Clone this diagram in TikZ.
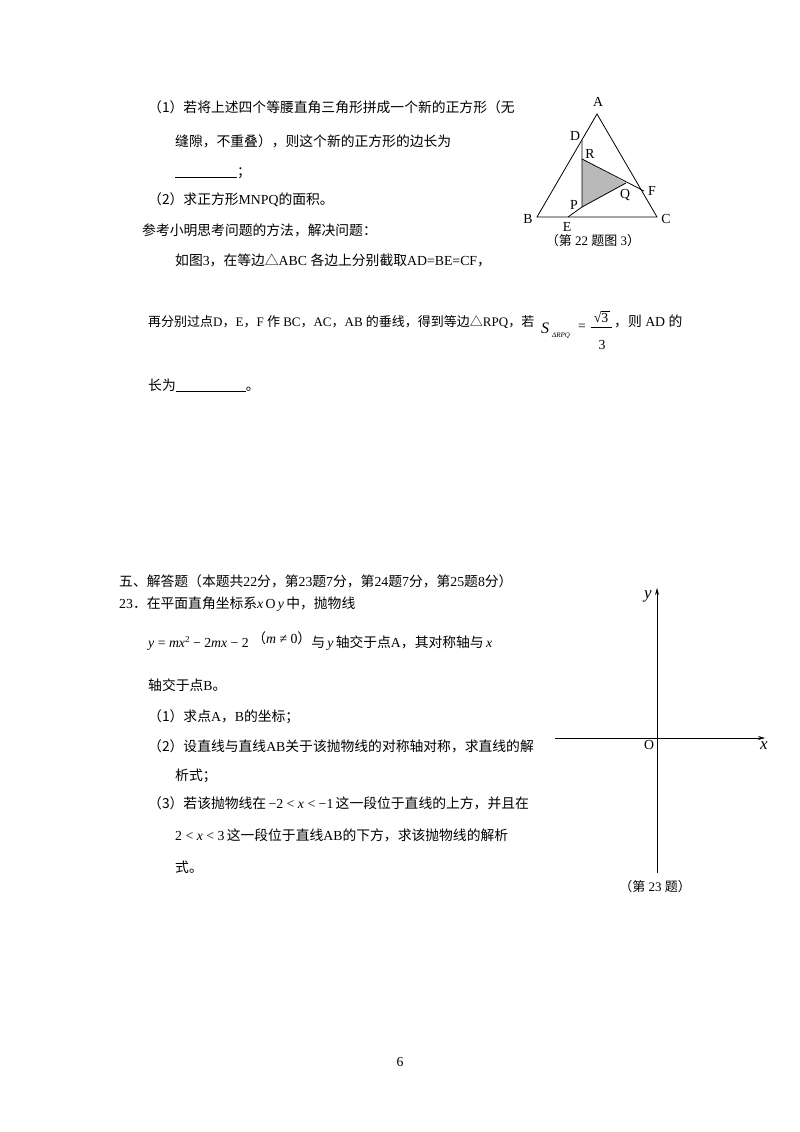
\documentclass[tikz,border=0pt]{standalone}
\usepackage{fontspec}
\setmainfont{Liberation Serif}
\newfontfamily\cjk{Noto Sans CJK SC}
\newcommand{\zh}[1]{{\cjk #1}}
\newcommand{\mi}[1]{\textit{#1}}
\usetikzlibrary{arrows.meta}
\begin{document}
\begin{tikzpicture}[x=1pt,y=-1pt,
  txt/.style={anchor=base west,inner sep=0pt,font=\fontsize{13.8}{16}\selectfont},
  lbl/.style={inner sep=0pt,font=\fontsize{13.8}{16}\selectfont},
  captxt/.style={inner sep=0pt,font=\fontsize{13}{15}\selectfont}]
\useasboundingbox[fill=white] (0,0) rectangle (800,1132);
% text part 22
\node[txt] (t1) at (148,112) {\zh{（1）若将上述四个等腰直角三角形拼成一个新的正方形（无}};
\node[txt] (t2) at (175,146) {\zh{缝隙，不重叠），则这个新的正方形的边长为}};
\node[txt] (t3) at (175,176) {\underline{\hspace{62pt}}\zh{；}};
\node[txt] (t4) at (148,204) {\zh{（2）求正方形}MNPQ\zh{的面积。}};
\node[txt] (t5) at (142,235) {\zh{参考小明思考问题的方法，解决问题：}};
\node[txt] (t6) at (175,265) {\zh{如图}3\zh{，在等边}\zh{△}ABC \zh{各边上分别截取}AD=BE=CF\zh{，}};
\node[txt,font=\fontsize{13}{15}\selectfont] (t7) at (148,326) {\zh{再分别过点}D\zh{，}E\zh{，}F \zh{作} BC\zh{，}AC\zh{，}AB \zh{的垂线，得到等边}\zh{△}RPQ\zh{，若}};
\node[txt,font=\fontsize{16}{18}\selectfont] (t7s) at (541,333) {\mi{S}};
\node[txt,font=\fontsize{7}{8}\selectfont] (t7sub) at (552,337) {\mi{ΔRPQ}};
\node[txt] (t7eq) at (578,330) {=};
\node[lbl] (t7n) at (601,317) {√\rlap{\rule[10.5pt]{9pt}{0.5pt}}3};
\node[lbl] (t7d) at (602,345) {3};
\draw[line width=0.5pt] (591,327) -- (612,327);
\node[txt] (t7b) at (614,326) {\zh{，则} AD \zh{的}};
\node[txt] (t8) at (148,390) {\zh{长为}\underline{\hspace{70pt}}\zh{。}};
% triangle figure
\coordinate (A) at (597,114);
\coordinate (B) at (537,217);
\coordinate (C) at (657,217);
\coordinate (D) at (582,140);
\coordinate (E) at (568,217);
\coordinate (F) at (644,191);
\coordinate (R) at (582,159);
\coordinate (Q) at (626,183);
\coordinate (P) at (582,207);
\fill[gray!55] (R) -- (Q) -- (P) -- cycle;
\draw[line width=0.8pt] (A) -- (B) -- (C) -- cycle;
\draw[line width=0.8pt] (D) -- (P) -- (E);
\draw[line width=0.8pt] (R) -- (F);
\draw[line width=0.8pt] (P) -- (Q);
\node[lbl] (lA) at (598,102) {A};
\node[lbl] (lB) at (528,219) {B};
\node[lbl] (lC) at (666,219) {C};
\node[lbl] (lD) at (575,136) {D};
\node[lbl] (lE) at (567,227) {E};
\node[lbl] (lF) at (652,191) {F};
\node[lbl] (lR) at (590,154) {R};
\node[lbl] (lQ) at (625,195) {Q};
\node[lbl] (lP) at (574,205) {P};
\node[captxt] (c22) at (593,241) {\zh{（第} 22 \zh{题图} 3\zh{）}};
% part 5
\node[txt] (s1) at (119,586) {\zh{五、解答题（本题共}22\zh{分，第}23\zh{题}7\zh{分，第}24\zh{题}7\zh{分，第}25\zh{题}8\zh{分）}};
\node[txt] (s2) at (119,608) {23\zh{．在平面直角坐标系}\mi{x}\,O\,\mi{y}\,\zh{中，抛物线}};
\node[txt] (s3) at (148,647) {\mi{y} = \mi{mx}\raisebox{5pt}{\fontsize{9}{10}\selectfont 2} − 2\mi{mx} − 2 \raisebox{4pt}{\zh{（}\mi{m} ≠ 0\zh{）}}\zh{与}\,\mi{y}\,\zh{轴交于点}A\zh{，其对称轴与}\,\mi{x}};
\node[txt] (s4) at (148,690) {\zh{轴交于点}B\zh{。}};
\node[txt] (s5) at (148,721) {\zh{（1）求点}A\zh{，}B\zh{的坐标；}};
\node[txt] (s6) at (148,751) {\zh{（2）设直线与直线}AB\zh{关于该抛物线的对称轴对称，求直线的解}};
\node[txt] (s7) at (175,780) {\zh{析式；}};
\node[txt] (s8) at (148,808) {\zh{（3）若该抛物线在}\,−2 < \mi{x} < −1\,\zh{这一段位于直线的上方，并且在}};
\node[txt] (s9) at (175,840) {2 < \mi{x} < 3\,\zh{这一段位于直线}AB\zh{的下方，求该抛物线的解析}};
\node[txt] (s10) at (175,872) {\zh{式。}};
% axes
\coordinate (xs) at (555,738);
\coordinate (xe) at (765,738);
\coordinate (ys) at (657,873);
\coordinate (ye) at (657,588);
\draw[line width=0.7pt,-{Stealth[length=7pt,width=4pt]}] (xs) -- (xe);
\draw[line width=0.7pt,-{Stealth[length=7pt,width=4pt]}] (ys) -- (ye);
\node[lbl,font=\fontsize{17}{18}\selectfont] (ly) at (648,596) {\mi{y}};
\node[lbl,font=\fontsize{17}{18}\selectfont] (lx) at (764,746) {\mi{x}};
\node[lbl] (lO) at (649,745) {O};
\node[captxt] (c23) at (655,887) {\zh{（第} 23 \zh{题）}};
\node[lbl] (pg) at (400,1062) {6};
\end{tikzpicture}
\end{document}
